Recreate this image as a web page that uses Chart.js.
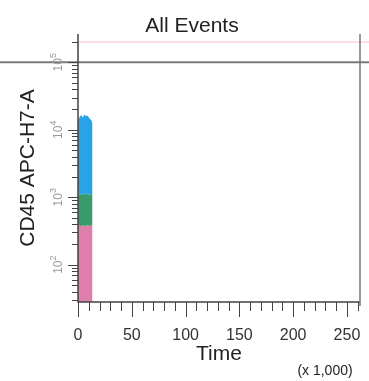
<!DOCTYPE html>
<html>
<head>
<meta charset="utf-8">
<script src="https://cdn.jsdelivr.net/npm/chart.js@4"></script>
<style>
  html, body { margin: 0; padding: 0; background: #fff; }
</style>
</head>
<body>
<canvas id="plot" width="369" height="381"></canvas>
<script>
// time (x 1,000) across the event band
const bandX = [0, 1.5, 3, 4.5, 6, 7.5, 9, 10.5, 12, 13.5];
// CD45 APC-H7-A boundaries of the coloured populations
const blueTop = [13500, 15500, 16500, 15000, 16800, 15800, 16200, 14800, 14000, 12500];
const greenTop = [1150, 1100, 1120, 1080, 1150, 1100, 1130, 1090, 1120, 1100];
const pinkTop = [390, 380, 370, 385, 375, 380, 390, 370, 380, 385];
const pinkBottom = [28, 28, 28, 28, 28, 28, 28, 28, 28, 28];

const xMajor = [0, 50, 100, 150, 200, 250];
const xMajorLabels = ["0", "50", "100", "150", "200", "250"];
const yMajor = [100, 1000, 10000, 100000];
const yExponents = ["2", "3", "4", "5"];

const xMax = 262.144;
const yMin = 28;
const yMax = 262143;

function pts(ys) {
  return bandX.map((x, i) => ({ x: x, y: ys[i] }));
}

const decor = {
  id: "decor",
  afterDraw(chart) {
    const ctx = chart.ctx;
    const xs = chart.scales.x;
    const ys = chart.scales.y;
    const area = chart.chartArea;
    ctx.save();

    // faint lines near the top
    ctx.strokeStyle = "rgba(240,160,170,0.35)";
    ctx.lineWidth = 2;
    ctx.beginPath();
    ctx.moveTo(area.left, ys.getPixelForValue(200000));
    ctx.lineTo(369, ys.getPixelForValue(200000));
    ctx.stroke();

    // gray horizontal line at 10^5
    const y5 = ys.getPixelForValue(100000);
    ctx.strokeStyle = "#7a7a7a";
    ctx.lineWidth = 2;
    ctx.beginPath();
    ctx.moveTo(0, y5);
    ctx.lineTo(369, y5);
    ctx.stroke();

    // axes
    ctx.strokeStyle = "#444";
    ctx.lineWidth = 1.5;
    ctx.beginPath();
    ctx.moveTo(area.left, area.top);
    ctx.lineTo(area.left, area.bottom);
    ctx.lineTo(area.right, area.bottom);
    ctx.stroke();
    ctx.strokeStyle = "#777";
    ctx.beginPath();
    ctx.moveTo(area.right, area.top);
    ctx.lineTo(area.right, area.bottom + 4);
    ctx.stroke();

    // x ticks
    ctx.strokeStyle = "#444";
    ctx.lineWidth = 1;
    for (let v = 0; v <= 260; v += 10) {
      const px = Math.round(xs.getPixelForValue(v)) + 0.5;
      const len = v % 50 === 0 ? 15 : 9;
      ctx.beginPath();
      ctx.moveTo(px, area.bottom);
      ctx.lineTo(px, area.bottom + len);
      ctx.stroke();
    }

    // y ticks
    for (let d = 10; d <= 100000; d *= 10) {
      for (let k = 1; k <= 9; k++) {
        const v = k * d;
        if (v < yMin || v > yMax) continue;
        const py = Math.round(ys.getPixelForValue(v)) + 0.5;
        const len = k === 1 ? 10 : 6;
        ctx.beginPath();
        ctx.moveTo(area.left - len, py);
        ctx.lineTo(area.left, py);
        ctx.stroke();
      }
    }

    // x labels
    ctx.fillStyle = "#333";
    ctx.font = "16px 'Liberation Sans', Arial, sans-serif";
    ctx.textAlign = "center";
    ctx.textBaseline = "middle";
    xMajor.forEach((v, i) => {
      ctx.fillText(xMajorLabels[i], xs.getPixelForValue(v), 336);
    });

    // y labels (rotated 10^n)
    ctx.fillStyle = "#999";
    yMajor.forEach((v, i) => {
      const py = ys.getPixelForValue(v);
      ctx.save();
      ctx.translate(62, py);
      ctx.rotate(-Math.PI / 2);
      ctx.font = "12px 'Liberation Sans', Arial, sans-serif";
      const w1 = ctx.measureText("10").width;
      ctx.font = "9px 'Liberation Sans', Arial, sans-serif";
      const w2 = ctx.measureText(yExponents[i]).width;
      const start = -(w1 + w2) / 2;
      ctx.textAlign = "left";
      ctx.textBaseline = "alphabetic";
      ctx.font = "12px 'Liberation Sans', Arial, sans-serif";
      ctx.fillText("10", start, 0);
      ctx.font = "9px 'Liberation Sans', Arial, sans-serif";
      ctx.fillText(yExponents[i], start + w1, -6);
      ctx.restore();
    });

    // titles
    ctx.fillStyle = "#222";
    ctx.textAlign = "center";
    ctx.textBaseline = "alphabetic";
    ctx.font = "21px 'Liberation Sans', Arial, sans-serif";
    ctx.fillText("All Events", 192, 32);
    ctx.fillText("Time", 219, 360);
    ctx.font = "14px 'Liberation Sans', Arial, sans-serif";
    ctx.fillText("(x 1,000)", 325, 375);

    ctx.save();
    ctx.translate(34, 168);
    ctx.rotate(-Math.PI / 2);
    ctx.font = "21px 'Liberation Sans', Arial, sans-serif";
    ctx.fillText("CD45 APC-H7-A", 0, 0);
    ctx.restore();

    ctx.restore();
  }
};

new Chart(document.getElementById("plot"), {
  type: "line",
  data: {
    datasets: [
      { data: pts(blueTop), fill: "+1", backgroundColor: "#2aa2e6", borderWidth: 0, pointRadius: 0 },
      { data: pts(greenTop), fill: "+1", backgroundColor: "#3b9a6c", borderWidth: 0, pointRadius: 0 },
      { data: pts(pinkTop), fill: "+1", backgroundColor: "#dd7eab", borderWidth: 0, pointRadius: 0 },
      { data: pts(pinkBottom), fill: false, borderWidth: 0, pointRadius: 0 }
    ]
  },
  options: {
    responsive: false,
    animation: false,
    layout: { padding: { left: 0, right: 9, top: 34, bottom: 0 } },
    plugins: { legend: { display: false }, tooltip: { enabled: false }, title: { display: false } },
    scales: {
      x: {
        type: "linear", min: 0, max: xMax,
        ticks: { display: false }, grid: { display: false }, border: { display: false },
        afterFit: s => { s.height = 79; }
      },
      y: {
        type: "logarithmic", min: yMin, max: yMax,
        ticks: { display: false }, grid: { display: false }, border: { display: false },
        afterFit: s => { s.width = 78; }
      }
    }
  },
  plugins: [decor]
});
</script>
</body>
</html>
